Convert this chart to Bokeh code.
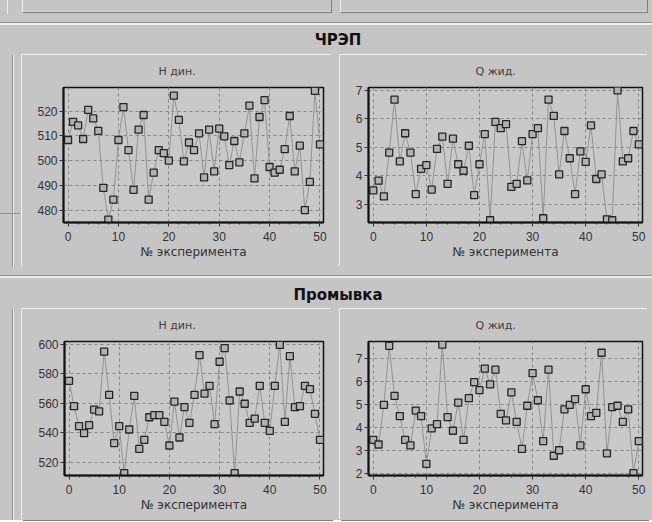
from bokeh.plotting import figure
from bokeh.models import Range1d, Div, FixedTicker, ColumnDataSource, Spacer
from bokeh.layouts import row, column
from bokeh.embed import file_html
from bokeh.resources import INLINE

# ---------------- data ----------------
experiments = list(range(51))

panel_titles = ["H дин.", "Q жид."]
section_titles = ["ЧРЭП", "Промывка"]
x_label = "№ эксперимента"

chrep_h = [508.3, 515.6, 514.2, 508.7, 520.5, 517.0, 512.0, 489.0, 476.2, 484.2,
           508.3, 521.6, 504.2, 488.2, 512.5, 518.4, 484.2, 495.1, 504.2, 503.0,
           500.0, 526.2, 516.4, 499.7, 507.3, 504.2, 511.0, 493.2, 512.5, 495.6,
           512.9, 509.8, 498.2, 507.9, 499.3, 511.0, 522.2, 492.8, 517.6, 524.4,
           497.4, 495.1, 496.3, 504.6, 518.0, 495.6, 506.0, 480.0, 491.4, 528.1,
           506.5]
chrep_q = [3.48, 3.82, 3.27, 4.81, 6.67, 4.50, 5.49, 4.81, 3.35, 4.24,
           4.37, 3.51, 4.94, 5.37, 3.71, 5.30, 4.40, 4.17, 5.05, 3.31,
           4.40, 5.46, 2.43, 5.89, 5.67, 5.81, 3.60, 3.71, 5.21, 3.83,
           5.46, 5.67, 2.50, 6.67, 6.10, 4.04, 5.57, 4.61, 3.35, 4.85,
           4.48, 5.77, 3.88, 4.04, 2.46, 2.43, 7.00, 4.50, 4.61, 5.57,
           5.10]
prom_h = [575.2, 558.1, 544.6, 539.8, 545.2, 555.8, 554.5, 595.0, 565.7, 533.1,
          544.6, 512.8, 542.3, 565.1, 529.2, 535.3, 550.6, 552.0, 552.0, 547.5,
          531.5, 561.2, 536.9, 557.4, 546.8, 565.7, 592.6, 566.6, 571.8, 545.9,
          588.1, 597.3, 561.9, 512.8, 568.0, 559.7, 546.8, 549.7, 571.8, 546.8,
          541.4, 571.8, 599.5, 547.5, 591.9, 557.4, 558.1, 571.8, 569.6, 552.9,
          535.3]
prom_q = [3.45, 3.25, 4.98, 7.55, 5.37, 4.49, 3.45, 3.21, 4.73, 4.49,
          2.41, 3.95, 4.14, 7.60, 4.44, 3.85, 5.08, 3.45, 5.27, 5.97,
          5.62, 6.56, 5.87, 6.51, 4.59, 4.30, 5.52, 4.24, 3.06, 4.94,
          6.36, 5.18, 3.40, 6.51, 2.76, 3.00, 4.78, 4.98, 5.23, 3.21,
          5.66, 4.49, 4.63, 7.25, 2.86, 4.88, 4.94, 4.24, 4.78, 2.00,
          3.40]

x_ticks = [0, 10, 20, 30, 40, 50]
chrep_h_ticks = [480, 490, 500, 510, 520]
chrep_q_ticks = [3, 4, 5, 6, 7]
prom_h_ticks = [520, 540, 560, 580, 600]
prom_q_ticks = [2, 3, 4, 5, 6, 7]

# ---------------- style ----------------
BG = "#c5c5c5"
PLOT_BG = "#c9c9c9"
LIGHT = "#eeeeee"
DARK = "#7e7e7e"
TICK_FONT = "Liberation Sans"
TEXT_FONT = "DejaVu Sans"
W = 652


def make_fig(yvals, yr, yticks, title, w, h, bl, br, bt, bb, toff):
    p = figure(width=w, height=h, x_range=Range1d(-0.9, 50.7), y_range=Range1d(*yr),
               output_backend="svg", toolbar_location=None, title=title,
               min_border_left=bl, min_border_right=br, min_border_top=bt, min_border_bottom=bb,
               background_fill_color=PLOT_BG, border_fill_color=BG, margin=(0, 0, 0, 0))
    p.title.align = "left"
    p.title.offset = toff
    p.title.vertical_align = "top"
    p.title.standoff = 16
    p.title.text_font = TEXT_FONT
    p.title.text_font_size = "11px"
    p.title.text_font_style = "normal"
    p.title.text_color = "#404040"
    p.outline_line_color = "#111111"
    p.outline_line_width = 1.5
    src = ColumnDataSource(dict(x=experiments, y=yvals))
    p.line("x", "y", source=src, line_color="#939393", line_width=1)
    p.scatter("x", "y", source=src, marker="square", size=7, fill_color="#b2b2b2",
              line_color="#262626", line_width=1.3)
    for g in (p.xgrid[0], p.ygrid[0]):
        g.grid_line_color = "#858585"
        g.grid_line_dash = "3 3"
        g.grid_line_width = 1
    p.xaxis.ticker = FixedTicker(ticks=x_ticks, minor_ticks=list(range(0, 51, 2)))
    p.yaxis.ticker = FixedTicker(ticks=yticks)
    for ax in (p.xaxis[0], p.yaxis[0]):
        ax.axis_line_color = "#111111"
        ax.axis_line_width = 2
        ax.major_tick_line_color = "#333333"
        ax.major_tick_out = 4
        ax.major_tick_in = 0
        ax.major_label_text_font = TICK_FONT
        ax.major_label_text_font_size = "12px"
        ax.major_label_text_color = "#333333"
    p.xaxis.major_label_standoff = 5
    p.yaxis.major_label_standoff = 2
    p.xaxis.minor_tick_line_color = "#333333"
    p.xaxis.minor_tick_out = 2
    p.xaxis.minor_tick_in = 0
    p.yaxis.minor_tick_line_color = None
    p.xaxis.axis_label = x_label
    p.xaxis.axis_label_text_font = TEXT_FONT
    p.xaxis.axis_label_text_font_size = "12px"
    p.xaxis.axis_label_text_font_style = "normal"
    p.xaxis.axis_label_text_color = "#333333"
    p.xaxis.axis_label_standoff = 1
    p.styles = {"box-shadow": f"-1px -1px 0 {LIGHT}, 1px 1px 0 {DARK}"}
    return p


f1 = make_fig(chrep_h, (475.0, 529.5), chrep_h_ticks, panel_titles[0], 310, 212, 41, 9, 32, 45, 95)
f2 = make_fig(chrep_q, (2.35, 7.1), chrep_q_ticks, panel_titles[1], 308, 212, 28, 6, 32, 45, 107)
f3 = make_fig(prom_h, (511.2, 601.8), prom_h_ticks, panel_titles[0], 310, 211, 42, 9, 32, 45, 94)
f4 = make_fig(prom_q, (1.9, 7.74), prom_q_ticks, panel_titles[1], 308, 211, 28, 6, 32, 45, 107)


def abs_div(left, top, w, h, style):
    return (f'<div style="position:absolute;left:{left}px;top:{top}px;width:{w}px;'
            f'height:{h}px;box-sizing:border-box;{style}"></div>')


def box_bottoms(bottom):
    return [
        abs_div(7, 0, 1, bottom + 1, f"background:{LIGHT}"),
        abs_div(22, -10, 310, bottom + 10, f"border-bottom:1px solid {DARK};border-right:1px solid {DARK};border-left:1px solid {LIGHT};box-shadow:inset 0 -1px 0 #d4d4d4"),
        abs_div(340, -10, 308, bottom + 10, f"border-bottom:1px solid {DARK};border-right:1px solid {DARK};border-left:1px solid {LIGHT};box-shadow:inset 0 -1px 0 #d4d4d4"),
    ]


def header(title, h, sep_y, text_top, boxes_bottom):
    parts = []
    if boxes_bottom is not None:
        parts += box_bottoms(boxes_bottom)
    parts.append(abs_div(0, sep_y, W, 1, "background:#8e8e8e"))
    parts.append(abs_div(0, sep_y + 1, W, 2, f"background:{LIGHT}"))
    parts.append(f'<div style="position:absolute;left:0;top:{text_top}px;width:676px;text-align:center;'
                 f"font-family:'{TEXT_FONT}';font-weight:bold;font-size:15px;line-height:18px;color:#111\">{title}</div>")
    html = (f'<div style="position:relative;width:{W}px;height:{h}px;overflow:hidden;background:{BG}">'
            + "".join(parts) + "</div>")
    return Div(text=html, width=W, height=h, margin=(0, 0, 0, 0), styles={"background-color": BG})


def side(h, stub):
    parts = [abs_div(12, 0, 1, h, "background:#8e8e8e"), abs_div(13, 0, 1, h, f"background:{LIGHT}")]
    if stub is not None:
        parts.append(abs_div(0, stub, 20, 1, "background:#8e8e8e"))
    html = (f'<div style="position:relative;width:22px;height:{h}px;overflow:hidden;background:{BG}">'
            + "".join(parts) + "</div>")
    return Div(text=html, width=22, height=h, margin=(0, 0, 0, 0), styles={"background-color": BG})


def gap(w, h):
    return Spacer(width=w, height=h, margin=(0, 0, 0, 0),
                  styles={"background-color": BG, "min-width": f"{w}px"})


h1 = header(section_titles[0], 55, 22, 31, 13)
h2 = header(section_titles[1], 42, 8, 19, None)

layout = column(
    h1,
    row(side(212, 158), f1, gap(8, 212), f2, gap(4, 212), spacing=0),
    h2,
    row(side(211, None), f3, gap(8, 211), f4, gap(4, 211), spacing=0),
    spacing=0,
    styles={"background-color": BG},
)

open("out.html", "w").write(file_html(layout, INLINE))
